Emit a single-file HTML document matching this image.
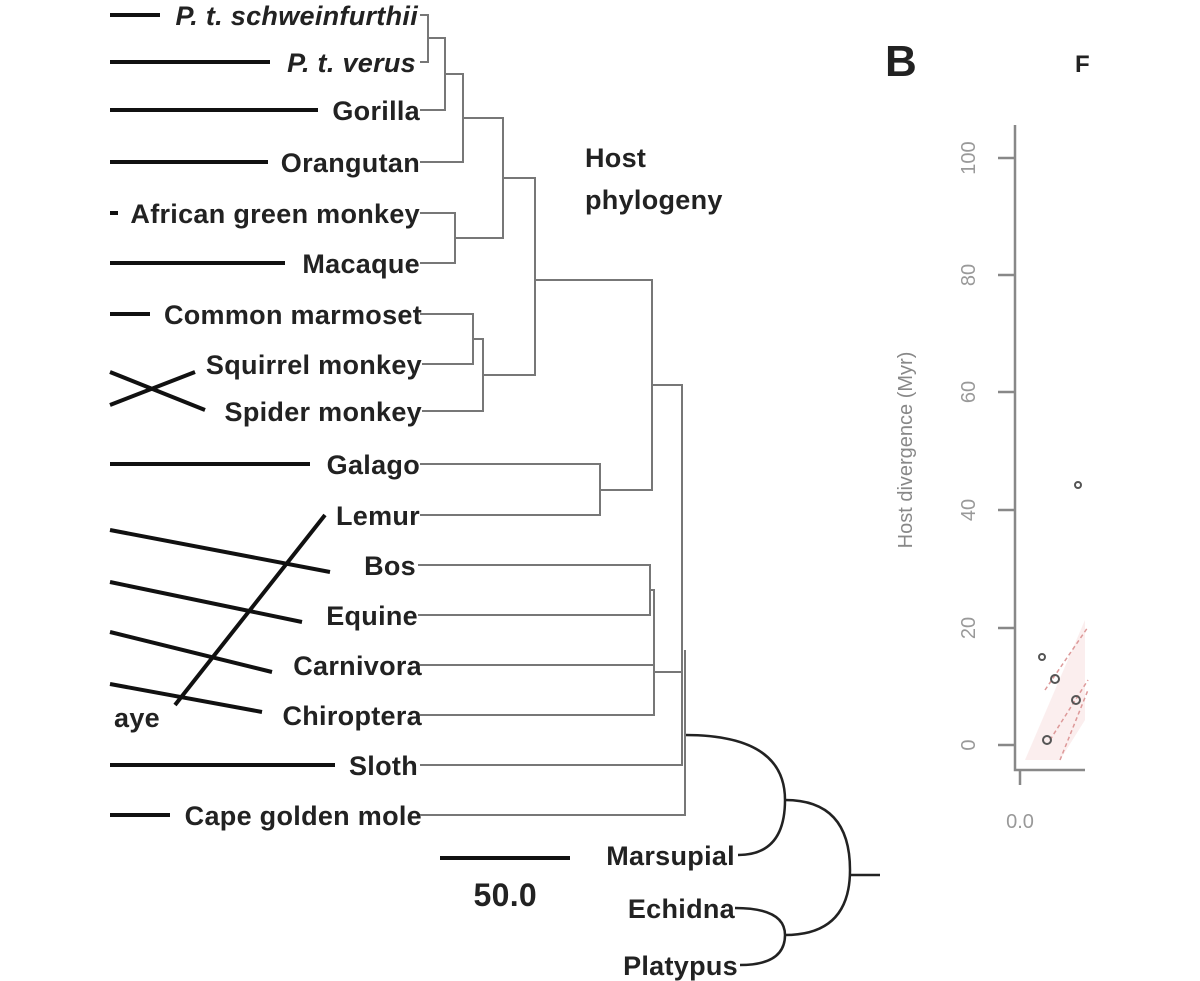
<!DOCTYPE html>
<html><head><style>body{margin:0;background:#fff}svg{display:block}</style></head><body>
<svg width="1200" height="981" viewBox="0 0 1200 981" xmlns="http://www.w3.org/2000/svg" font-family="Liberation Sans, sans-serif">
<g font-weight="bold" font-size="27" fill="#222" text-anchor="end" letter-spacing="0.3">
<text x="418" y="25" font-style="italic">P. t. schweinfurthii</text>
<text x="416" y="72" font-style="italic">P. t. verus</text>
<text x="420" y="120">Gorilla</text>
<text x="420" y="172">Orangutan</text>
<text x="420" y="223">African green monkey</text>
<text x="420" y="273">Macaque</text>
<text x="422" y="324">Common marmoset</text>
<text x="422" y="374">Squirrel monkey</text>
<text x="422" y="421">Spider monkey</text>
<text x="420" y="474">Galago</text>
<text x="420" y="525">Lemur</text>
<text x="416" y="575">Bos</text>
<text x="418" y="625">Equine</text>
<text x="422" y="675">Carnivora</text>
<text x="422" y="725">Chiroptera</text>
<text x="418" y="775">Sloth</text>
<text x="422" y="825">Cape golden mole</text>
<text x="160" y="727">aye</text>
<text x="735" y="865">Marsupial</text>
<text x="735" y="918">Echidna</text>
<text x="738" y="975">Platypus</text>
<text x="537" y="906" font-size="32">50.0</text>
<text x="585" y="167" text-anchor="start">Host</text>
<text x="585" y="209" text-anchor="start">phylogeny</text>
<text x="885" y="76" text-anchor="start" font-size="44">B</text>
<text x="1075" y="72" text-anchor="start" font-size="24">F</text>
</g>
<g stroke="#111" stroke-width="4" fill="none">
<path d="M110 15H160M110 62H270M110 110H318M110 162H268M110 213H118M110 263H285M110 314H150M110 464H310M110 765H335M110 815H170"/>
<path d="M110 372L205 410M110 405L195 372"/>
<path d="M175 705L325 515M110 530L330 572M110 582L302 622M110 632L272 672M110 684L262 712"/>
<path d="M440 858H570"/>
</g>
<g stroke="#222" stroke-width="2.5" fill="none">
<path d="M685 735Q785 735 785 800Q785 855 738 855"/>
<path d="M785 800Q850 800 850 870Q850 935 785 935"/>
<path d="M850 875H880"/>
<path d="M735 908Q785 908 785 935Q785 965 740 965"/>
</g>
<g stroke="#777" stroke-width="2" fill="none">
<path d="M420 15H428V62H420M428 38H445V110H420M445 74H463V162H420M463 118H503V238H455M420 213H455V263H420M503 178H535V375H483M420 314H473V364H422M473 339H483V411H422M535 280H652V490H600M420 464H600V515H420M652 385H682V765H420M418 565H650V615H418M650 590H654V690M420 665H654V715H420M654 672H682M420 815H685V650"/>
</g>
<g stroke="#888" stroke-width="2.5" fill="none">
<path d="M1015 125V770H1085M998 158H1015M998 275H1015M998 392H1015M998 510H1015M998 628H1015M998 745H1015M1020 770V785"/>
</g>
<g font-size="20" fill="#999" text-anchor="middle">
<text transform="translate(975 158) rotate(-90)">100</text>
<text transform="translate(975 275) rotate(-90)">80</text>
<text transform="translate(975 392) rotate(-90)">60</text>
<text transform="translate(975 510) rotate(-90)">40</text>
<text transform="translate(975 628) rotate(-90)">20</text>
<text transform="translate(975 745) rotate(-90)">0</text>
<text transform="translate(912 450) rotate(-90)" fill="#888">Host divergence (Myr)</text>
<text x="1020" y="828">0.0</text>
</g>
<path d="M1025 760L1085 620L1085 720L1060 760Z" fill="#fbeeee"/>
<g stroke="#d99" stroke-width="1.5" stroke-dasharray="4,3" fill="none">
<path d="M1045 690L1088 627M1060 760L1088 690M1050 740L1088 680"/>
</g>
<g fill="none" stroke="#555" stroke-width="2">
<circle cx="1078" cy="485" r="3"/><circle cx="1042" cy="657" r="3"/><circle cx="1055" cy="679" r="4"/>
<circle cx="1076" cy="700" r="4"/><circle cx="1047" cy="740" r="4"/>
</g>
</svg>
</body></html>
